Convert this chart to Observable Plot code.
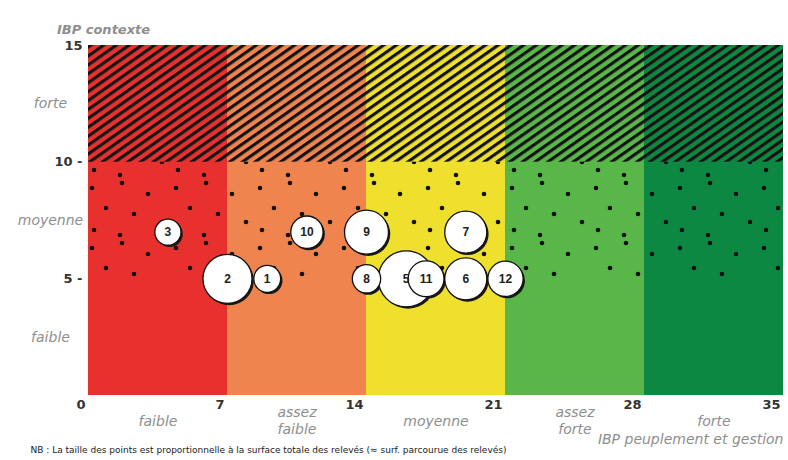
<!DOCTYPE html>
<html>
<head>
<meta charset="utf-8">
<script src="https://cdn.jsdelivr.net/npm/d3@7"></script>
<script src="https://cdn.jsdelivr.net/npm/@observablehq/plot@0.6"></script>
<style>
  html, body { margin: 0; padding: 0; background: #ffffff; }
  svg { display: block; }
</style>
</head>
<body>
<div id="chart"></div>
<script>
// --- IBP peuplement et gestion classes (x) ---
const xClassNames = ["faible", "assez\nfaible", "moyenne", "assez\nforte", "forte"];
const xClassLow = [0, 7, 14, 21, 28];
const xClassHigh = [7, 14, 21, 28, 35];
const xClassColors = ["#e8312f", "#f0844f", "#eee02c", "#58b748", "#0d8843"];

// --- IBP contexte classes (y) ---
const yClassNames = ["faible", "moyenne", "forte"];
const yClassLow = [0, 5, 10];
const yClassHigh = [5, 10, 15];
const yClassPattern = ["none", "url(#dots)", "url(#hatch)"];

// --- axis ticks ---
const xTicks = [0, 7, 14, 21, 28, 35];
const xTickLabels = ["0", "7", "14", "21", "28", "35"];
const yTicks = [5, 10, 15];
const yTickLabels = ["5 -", "10 -", "15"];

// --- relevés (sites) ---
const sites = ["1", "2", "3", "5", "6", "7", "8", "9", "10", "11", "12"];
const ibpPeuplement = [9, 7, 4, 16, 19, 19, 14, 14, 11, 17, 21];
const ibpContexte = [5, 5, 7, 5, 5, 7, 5, 7, 7, 5, 5];
const surface = [1.8, 6.0, 1.7, 7.8, 4.4, 4.4, 2.0, 4.8, 2.6, 3.2, 3.1];

const columns = xClassNames.map((name, i) => ({name, x1: xClassLow[i], x2: xClassHigh[i], color: xClassColors[i]}));
const columnsFull = columns.flatMap(c => yClassNames.map((zn, j) => ({...c, y1: yClassLow[j], y2: yClassHigh[j], pattern: yClassPattern[j]})));
const zones = yClassNames.map((name, i) => ({name, y1: yClassLow[i], y2: yClassHigh[i]}));
const xTickData = xTicks.map((v, i) => ({v, label: xTickLabels[i]}));
const yTickData = yTicks.map((v, i) => ({v, label: yTickLabels[i]}));
const points = sites.map((s, i) => ({site: s, x: ibpPeuplement[i], y: ibpContexte[i], surface: surface[i]}))
  .sort((a, b) => b.surface - a.surface);

const font = "DejaVu Sans";
const grey = "#8e8e8e";
const dark = "#333333";

const svg = Plot.plot({
  width: 788,
  height: 460,
  marginLeft: 88,
  marginRight: 5,
  marginTop: 45,
  marginBottom: 65,
  style: {fontFamily: font, background: "#ffffff"},
  x: {domain: [0, 35], axis: null},
  y: {domain: [0, 15], axis: null},
  r: {type: "sqrt", domain: [0, 7.8], range: [0, 28]},
  color: {type: "identity"},
  marks: [
    // coloured class columns
    Plot.rect(columns, {x1: "x1", x2: "x2", y1: 0, y2: 15, fill: "color"}),
    // patterns: dots (moyenne) and hatching (forte)
    Plot.rect(columnsFull.filter(d => d.pattern !== "none"), {x1: "x1", x2: "x2", y1: "y1", y2: "y2", fill: "pattern"}),
    // y tick labels
    Plot.text(yTickData, {y: "v", text: "label", frameAnchor: "left", dx: -6, textAnchor: "end",
      fontSize: 13, fontWeight: "bold", fill: dark}),
    // x tick labels
    Plot.text(xTickData, {x: "v", text: "label", frameAnchor: "bottom", dy: 13, dx: -3, textAnchor: "end",
      fontSize: 13, fontWeight: "bold", fill: dark}),
    // y class labels
    Plot.text(zones, {y: d => (d.y1 + d.y2) / 2, text: "name", frameAnchor: "left", dx: -38,
      textAnchor: "middle", fontSize: 14, fontStyle: "italic", fill: grey}),
    // x class labels
    Plot.text(columns, {x: d => (d.x1 + d.x2) / 2, text: "name", frameAnchor: "bottom", dy: 25,
      lineAnchor: "middle", lineHeight: 1.2, fontSize: 14, fontStyle: "italic", fill: grey}),
    // axis titles
    Plot.text(["IBP contexte"], {frameAnchor: "top-left", dx: 15, dy: -21, textAnchor: "middle",
      fontSize: 13, fontStyle: "italic", fontWeight: "bold", fill: grey}),
    Plot.text(["IBP peuplement et gestion"], {frameAnchor: "bottom-right", dx: 0, dy: 48, textAnchor: "end",
      fontSize: 14, fontStyle: "italic", fill: grey}),
    // footnote
    Plot.text(["NB : La taille des points est proportionnelle à la surface totale des relevés (≈ surf. parcourue des relevés)"],
      {frameAnchor: "bottom-left", dx: -58, dy: 57, textAnchor: "start", fontSize: 9, fill: "#222"}),
    // bubble shadows
    Plot.dot(points, {x: "x", y: "y", r: "surface", fill: "#1a1a1a", dx: 1.8, dy: 1.8}),
    // bubbles
    Plot.dot(points, {x: "x", y: "y", r: "surface", fill: "#ffffff", stroke: "#111", strokeWidth: 1.3}),
    Plot.text(points, {x: "x", y: "y", text: "site", fontSize: 12, fontWeight: "bold",
      fontFamily: "Liberation Sans", fill: "#222"})
  ]
});

svg.insertAdjacentHTML("afterbegin", `
<defs>
  <pattern id="hatch" patternUnits="userSpaceOnUse" width="7.3" height="20" patternTransform="rotate(55)">
    <rect x="0" y="0" width="3.1" height="20" fill="#111"></rect>
  </pattern>
  <pattern id="dots" patternUnits="userSpaceOnUse" width="84" height="60">
    <circle cx="8" cy="8" r="2.3" fill="#111"></circle>
    <circle cx="38" cy="3" r="2.3" fill="#111"></circle>
    <circle cx="64" cy="14" r="2.3" fill="#111"></circle>
    <circle cx="22" cy="28" r="2.3" fill="#111"></circle>
    <circle cx="50" cy="34" r="2.3" fill="#111"></circle>
    <circle cx="78" cy="42" r="2.3" fill="#111"></circle>
    <circle cx="10" cy="50" r="2.3" fill="#111"></circle>
    <circle cx="36" cy="55" r="2.3" fill="#111"></circle>
  </pattern>
</defs>`);

document.getElementById("chart").appendChild(svg);
</script>
</body>
</html>
